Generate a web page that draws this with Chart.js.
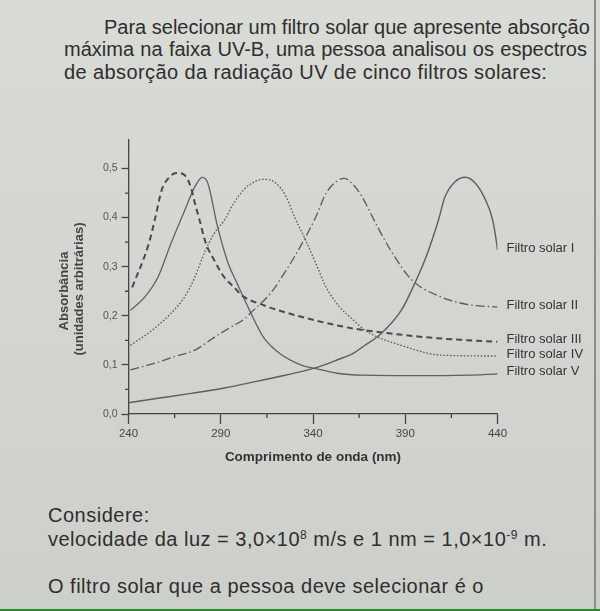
<!DOCTYPE html>
<html>
<head>
<meta charset="utf-8">
<script src="https://cdn.jsdelivr.net/npm/chart.js@4/dist/chart.umd.min.js"></script>
<style>
  html, body { margin: 0; padding: 0; }
  body {
    width: 600px; height: 611px; position: relative; overflow: hidden;
    background: linear-gradient(#d9dbd7, #cdcfcb);
    font-family: "Liberation Sans", Arial, sans-serif; color: #2e2e2e;
  }
  .line { position: absolute; white-space: nowrap; font-size: 20px; letter-spacing: 0.4px; line-height: 1; }
  .just { text-align: justify; text-align-last: justify; letter-spacing: 0; }
  .bottom { font-size: 20px; letter-spacing: 0.5px; }
  #chartBox { position: absolute; left: 0; top: 120px; width: 600px; height: 360px; }
  .ytitle {
    position: absolute; font-weight: bold; font-size: 13px; color: #444;
    transform: translate(-50%, -50%) rotate(-90deg); white-space: nowrap;
  }
  .xtitle { position: absolute; font-weight: bold; font-size: 13.5px; color: #333;
    transform: translate(-50%, -50%); white-space: nowrap; }
  sup { font-size: 60%; vertical-align: 0.6em; line-height: 0; }
  #edge { position: absolute; left: 594px; top: 0; width: 1.5px; height: 611px; background: #8a8c89; }
  #green { position: absolute; left: 0; top: 608.5px; width: 600px; height: 2.5px; background: #2b8c2b; }
</style>
</head>
<body>
<div class="line just" style="left:104px; top:17px; width:483px;">Para selecionar um filtro solar que apresente absorção</div>
<div class="line just" style="left:64px; top:39px; width:523px;">máxima na faixa UV-B, uma pessoa analisou os espectros</div>
<div class="line" style="left:64px; top:62px;">de absorção da radiação UV de cinco filtros solares:</div>

<div id="chartBox"><canvas id="uvChart"></canvas></div>
<div class="ytitle" style="left:63px; top:291px;">Absorbância</div>
<div class="ytitle" style="left:78px; top:289px;">(unidades arbitrárias)</div>
<div class="xtitle" style="left:313px; top:456px;">Comprimento de onda (nm)</div>

<div class="line bottom" style="left:48px; top:505px;">Considere:</div>
<div class="line bottom" style="left:48px; top:529px;">velocidade da luz = 3,0×10<sup>8</sup> m/s e 1 nm = 1,0×10<sup>-9</sup> m.</div>
<div class="line bottom" style="left:48px; top:576px;">O filtro solar que a pessoa deve selecionar é o</div>
<div id="edge"></div>
<div id="green"></div>

<script>
// curve samples (wavelength in nm, absorbance)
const filtro1Nm  = [240, 256, 274, 292, 310, 325, 343, 353, 362, 367, 377, 388, 396, 402, 408, 411.5, 417, 422.5, 428, 433.5, 437.4, 439.3, 440];
const filtro1Abs = [0.023, 0.032, 0.042, 0.053, 0.067, 0.079, 0.096, 0.110, 0.124, 0.137, 0.164, 0.212, 0.273, 0.327, 0.395, 0.442, 0.473, 0.482, 0.470, 0.436, 0.395, 0.354, 0.334];

const filtro2Nm  = [241, 253, 265, 276, 286, 295, 303, 306, 317, 325.5, 334, 341.5, 347, 352.5, 357, 361, 365.5, 375, 382, 393.6, 409, 425.5, 440];
const filtro2Abs = [0.090, 0.102, 0.117, 0.130, 0.155, 0.176, 0.194, 0.205, 0.246, 0.293, 0.347, 0.401, 0.449, 0.473, 0.480, 0.470, 0.449, 0.381, 0.334, 0.273, 0.239, 0.222, 0.218];

const filtro3Nm  = [242, 251, 254.6, 258, 261.6, 266, 270.5, 273.7, 276, 278.5, 282, 286.5, 291.8, 297, 302, 313, 325, 343, 362, 380, 399, 420, 440];
const filtro3Abs = [0.258, 0.347, 0.401, 0.456, 0.480, 0.491, 0.486, 0.463, 0.429, 0.395, 0.347, 0.313, 0.279, 0.259, 0.240, 0.222, 0.207, 0.189, 0.174, 0.165, 0.157, 0.151, 0.147];

const filtro4Nm  = [241, 253, 263, 270.5, 276, 281, 286.5, 292, 297, 303, 306, 313, 320, 325.5, 330, 336, 341.5, 347, 354.4, 362, 367, 371, 390, 409, 440];
const filtro4Abs = [0.140, 0.171, 0.205, 0.239, 0.279, 0.327, 0.368, 0.395, 0.429, 0.459, 0.468, 0.478, 0.470, 0.442, 0.401, 0.354, 0.307, 0.259, 0.218, 0.191, 0.174, 0.164, 0.137, 0.120, 0.118];

const filtro5Nm  = [241, 249, 256, 263, 270.5, 276, 280, 283, 288.3, 294, 299, 302, 306, 313, 322, 334, 342, 353, 367, 399, 438, 440];
const filtro5Abs = [0.211, 0.239, 0.279, 0.347, 0.415, 0.463, 0.482, 0.470, 0.381, 0.307, 0.265, 0.240, 0.208, 0.157, 0.123, 0.099, 0.092, 0.083, 0.079, 0.078, 0.081, 0.082];

const filterLabels = ['Filtro solar I', 'Filtro solar II', 'Filtro solar III', 'Filtro solar IV', 'Filtro solar V'];
const xTickValues = [240, 290, 340, 390, 440];
const yTickValues = [0, 0.1, 0.2, 0.3, 0.4, 0.5];
const yTickLabels = ['0,0', '0,1', '0,2', '0,3', '0,4', '0,5'];

const toPoints = (xs, ys) => xs.map((x, i) => ({ x: x, y: ys[i] }));

const lineStyles = [
  { borderColor: '#5e5e5e', borderWidth: 1.4, borderDash: [] },
  { borderColor: '#5a5a5a', borderWidth: 1.3, borderDash: [9, 3, 1.5, 3] },
  { borderColor: '#4a4a4a', borderWidth: 2, borderDash: [6, 4] },
  { borderColor: '#5a5a5a', borderWidth: 1.3, borderDash: [1.6, 1.8] },
  { borderColor: '#606060', borderWidth: 1.3, borderDash: [] }
];

const series = [
  toPoints(filtro1Nm, filtro1Abs),
  toPoints(filtro2Nm, filtro2Abs),
  toPoints(filtro3Nm, filtro3Abs),
  toPoints(filtro4Nm, filtro4Abs),
  toPoints(filtro5Nm, filtro5Abs)
];

const datasets = series.map((pts, i) => Object.assign({
  label: filterLabels[i],
  data: pts,
  pointRadius: 0,
  fill: false,
  cubicInterpolationMode: 'monotone'
}, lineStyles[i]));

// minor ticks (halfway between the labelled ones) and end-of-curve labels
const extras = {
  id: 'extras',
  afterDraw(chart) {
    const ctx = chart.ctx;
    const xs = chart.scales.x, ys = chart.scales.y;
    ctx.save();
    ctx.strokeStyle = '#444';
    ctx.lineWidth = 1.3;
    ctx.beginPath();
    for (let i = 0; i < xTickValues.length - 1; i++) {
      const px = xs.getPixelForValue((xTickValues[i] + xTickValues[i + 1]) / 2);
      ctx.moveTo(px, ys.bottom); ctx.lineTo(px, ys.bottom + 4);
    }
    for (let i = 0; i < yTickValues.length - 1; i++) {
      const py = ys.getPixelForValue((yTickValues[i] + yTickValues[i + 1]) / 2);
      ctx.moveTo(xs.left, py); ctx.lineTo(xs.left - 3.5, py);
    }
    ctx.stroke();

    ctx.fillStyle = '#333';
    ctx.font = '13px "Liberation Sans", Arial, sans-serif';
    ctx.textBaseline = 'middle';
    chart.data.datasets.forEach((ds, i) => {
      const meta = chart.getDatasetMeta(i);
      const last = meta.data[meta.data.length - 1];
      ctx.fillText(ds.label, last.x + 9, last.y - 2);
    });
    ctx.restore();
  }
};

new Chart(document.getElementById('uvChart'), {
  type: 'line',
  data: { datasets: datasets },
  options: {
    responsive: true,
    maintainAspectRatio: false,
    animation: false,
    layout: { padding: { top: 20, right: 102.5, left: 0, bottom: 0 } },
    plugins: { legend: { display: false }, tooltip: { enabled: false } },
    scales: {
      x: {
        type: 'linear',
        min: 240, max: 440,
        afterBuildTicks: s => { s.ticks = xTickValues.map(v => ({ value: v })); },
        afterFit: s => { s.height = 66; },
        border: { display: true, color: '#444', width: 1.3 },
        grid: { drawOnChartArea: false, drawTicks: true, tickLength: 10, tickColor: '#444', tickWidth: 1.3 },
        ticks: { color: '#444', padding: 3, font: { size: 11.5, family: '"Liberation Sans", Arial, sans-serif' } }
      },
      y: {
        min: 0, max: 0.558,
        afterBuildTicks: s => { s.ticks = yTickValues.map(v => ({ value: v })); },
        afterFit: s => { s.width = 128.5; },
        border: { display: true, color: '#444', width: 1.3 },
        grid: { drawOnChartArea: false, drawTicks: true, tickLength: 7, tickColor: '#444', tickWidth: 1.3 },
        ticks: {
          color: '#555', padding: 4,
          font: { size: 10.5, family: '"Liberation Sans", Arial, sans-serif' },
          callback: (v, i) => yTickLabels[i]
        }
      }
    }
  },
  plugins: [extras]
});
</script>
</body>
</html>
